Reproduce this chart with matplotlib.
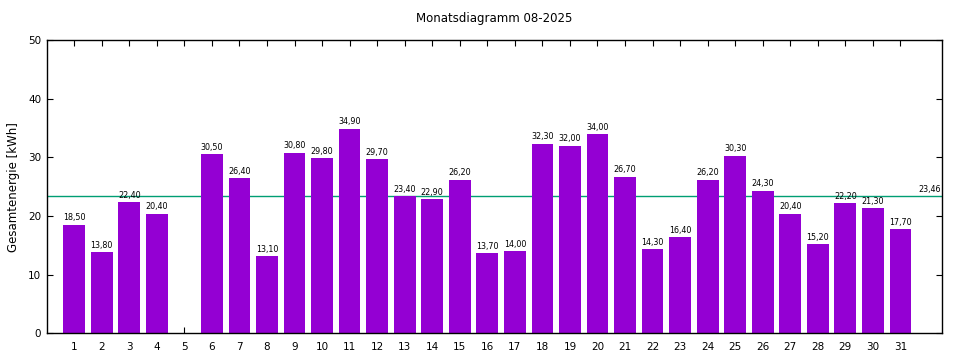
import numpy as np
import matplotlib
matplotlib.use("Agg")
import matplotlib.pyplot as plt

days = list(range(1, 32))
energy = [18.5, 13.8, 22.4, 20.4, np.nan, 30.5, 26.4, 13.1, 30.8, 29.8,
          34.9, 29.7, 23.4, 22.9, 26.2, 13.7, 14.0, 32.3, 32.0, 34.0,
          26.7, 14.3, 16.4, 26.2, 30.3, 24.3, 20.4, 15.2, 22.2, 21.3, 17.7]
title = "Monatsdiagramm 08-2025"
ylabel = "Gesamtenergie [kWh]"

avg = np.nanmean(energy)

plt.rcParams['font.family'] = ['DejaVu Sans']
fig = plt.figure(figsize=(9.6, 3.6), dpi=100)
ax = fig.add_axes([0.0486, 0.074, 0.9324, 0.815])

vals = np.nan_to_num(energy)
ax.bar(days, vals, width=0.79, color='#9400d3', zorder=2)
for d, v in zip(days, energy):
    if not np.isnan(v):
        ax.text(d, v + 0.4, f"{v:.2f}".replace('.', ','), ha='center', va='bottom',
                fontsize=5.8, zorder=3)

ax.axhline(avg, color='#009e73', lw=1, zorder=1)
ax.text(32.45, avg + 0.3, f"{avg:.2f}".replace('.', ','), ha='right', va='bottom',
        fontsize=5.8)

ax.set_xlim(0, 32.5)
ax.set_ylim(0, 50)
ax.set_xticks(days)
ax.set_yticks(range(0, 51, 10))
ax.tick_params(direction='in', length=4, width=0.8, top=True, right=True,
               labelsize=7.5, pad=6)
ax.tick_params(axis='y', pad=4)
for s in ax.spines.values():
    s.set_linewidth(1)

ax.set_title(title, fontsize=8.5, pad=13)
ax.set_ylabel(ylabel, fontsize=8.5, labelpad=6)

fig.savefig("out.png", dpi=100)
